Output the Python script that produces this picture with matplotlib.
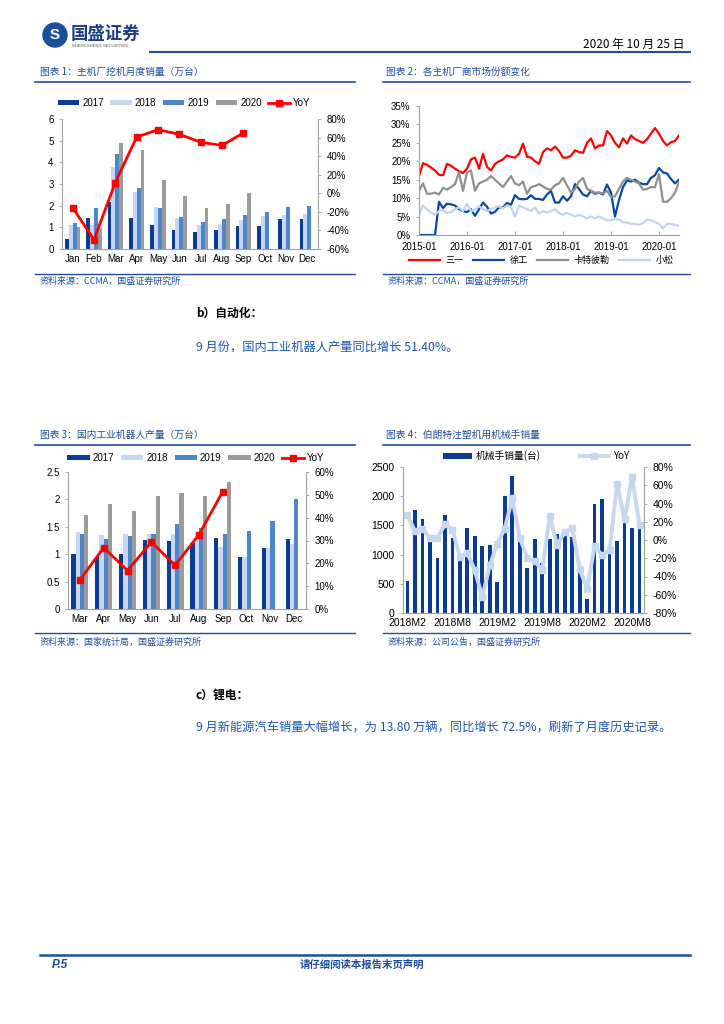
import matplotlib
matplotlib.use("Agg")
import matplotlib.pyplot as plt
from matplotlib.lines import Line2D
from matplotlib.patches import Ellipse
from matplotlib.ticker import FuncFormatter
import numpy as np

plt.rcParams['font.family'] = ['Liberation Sans', 'Noto Sans CJK SC', 'DejaVu Sans']
CJK = ['Noto Sans CJK SC', 'DejaVu Sans']

W, H = 724, 1024

# ---------------- Data ----------------
# Chart 1: excavator monthly sales (10k units)
months12 = ['Jan', 'Feb', 'Mar', 'Apr', 'May', 'Jun', 'Jul', 'Aug', 'Sep', 'Oct', 'Nov', 'Dec']
exc_2017 = [0.45, 1.45, 2.15, 1.45, 1.13, 0.90, 0.78, 0.87, 1.05, 1.06, 1.38, 1.40]
exc_2018 = [1.10, 1.10, 3.80, 2.65, 1.93, 1.42, 1.10, 1.15, 1.33, 1.52, 1.58, 1.60]
exc_2019 = [1.20, 1.87, 4.40, 2.80, 1.88, 1.50, 1.23, 1.38, 1.57, 1.70, 1.93, 2.00]
exc_2020 = [1.00, 0.95, 4.90, 4.55, 3.17, 2.45, 1.90, 2.08, 2.60]
exc_yoy = [-15.5, -50.0, 11.6, 60.5, 68.5, 63.5, 55.0, 51.5, 65.0]

# Chart 2: market share (monthly 2015-01 .. 2020-06)
share_sany = [16, 19.5, 19, 18.3, 17.5, 16.3, 16.2, 19.3, 18.8, 18, 17.3, 16.8,
              18, 20.5, 21, 18, 22, 18.5, 17.5, 19.3, 20, 20.5, 21.6, 21.2,
              21, 22, 24.8, 21.2, 21, 20, 19.3, 22.5, 23.5, 23, 24, 22.8,
              21, 21, 21.5, 23, 22.5, 22.3, 25, 26.2, 23.5, 24.3, 24.3, 28.2,
              27, 25, 23.8, 26.2, 24.8, 27, 26, 25.5, 25, 26, 27.5, 29,
              27.5, 25.5, 24.3, 25.2, 25.5, 27]
share_xcmg = [0, 0, 0, 0, 0, 9, 7.3, 8.5, 8.3, 8, 7, 6.5,
              6.2, 7, 5.2, 7, 8.8, 7.7, 5.8, 6.3, 7.5, 7.5, 8.7, 8.2,
              10.8, 9.8, 9.7, 9.8, 10.8, 9.8, 9.8, 9.5, 11, 12, 8.8, 8.8,
              10.5, 9.3, 10.5, 13.8, 12.5, 11, 10.5, 12, 11.2, 11.5, 11, 13.7,
              11.5, 5, 9.5, 13, 14.8, 14.5, 15, 14.2, 13.8, 13.8, 15.5, 16.2,
              18.2, 17, 16.7, 15.2, 14, 15]
share_cat = [12, 14, 11.2, 11.2, 11.5, 11, 12.8, 12.3, 13, 13.8, 17, 12,
             17, 17.5, 12, 14, 14.5, 15, 16, 15, 14, 13, 14.5, 16,
             14, 13.5, 14.5, 11.2, 13, 13.3, 13.8, 13.2, 12.5, 12.3, 13.5, 14,
             15.5, 13.5, 11.5, 12.5, 14.5, 15.5, 12.5, 12, 11.5, 11.5, 11.3, 12,
             10.3, 10.5, 12.5, 14.5, 15.5, 15, 14.5, 14, 12.3, 12.5, 13, 13,
             16.5, 9, 9, 10, 11.5, 14.3]
share_komatsu = [5.5, 8, 7, 6, 5.5, 6.5, 6.8, 6, 6.2, 7, 7.5, 6.5,
                 8.5, 6.5, 6.8, 7.8, 7, 6.5, 7, 7.5, 7.8, 7.2, 8, 7.5,
                 5, 8, 7.5, 7, 6.5, 7.5, 5.8, 6.5, 6, 6.5, 7, 6,
                 5.5, 6, 5.5, 5, 5.5, 5, 4.5, 5, 4.5, 5, 4.5, 4,
                 4, 4.3, 4.2, 3.5, 3.3, 3, 3, 2.8, 3.2, 4.2, 4, 3.5,
                 3, 1.8, 3, 3, 2.7, 2.5]
share_ticks = ['2015-01', '2016-01', '2017-01', '2018-01', '2019-01', '2020-01']
share_names = ['三一', '徐工', '卡特彼勒', '小松']

# Chart 3: industrial robot output (10k units)
months10 = ['Mar', 'Apr', 'May', 'Jun', 'Jul', 'Aug', 'Sep', 'Oct', 'Nov', 'Dec']
rob_2017 = [1.01, 0.95, 1.01, 1.26, 1.24, 1.20, 1.30, 0.94, 1.12, 1.27]
rob_2018 = [1.40, 1.35, 1.37, 1.37, 1.37, 1.30, 1.13, 0.95, 1.11, 1.18]
rob_2019 = [1.37, 1.28, 1.33, 1.37, 1.55, 1.47, 1.37, 1.43, 1.60, 2.00]
rob_2020 = [1.72, 1.92, 1.78, 2.07, 2.11, 2.06, 2.31]
rob_yoy = [12.7, 26.9, 16.8, 29.3, 19.2, 32.5, 51.4]

# Chart 4: Borunte manipulator sales (2018M2 .. 2020M9)
arm_sales = [550, 1760, 1610, 1220, 945, 1680, 1290, 910, 1450, 1315, 1145, 1160,
             535, 2000, 2350, 1325, 765, 1270, 850, 1275, 1360, 1315, 1305, 725,
             245, 1875, 1960, 1150, 1230, 1535, 1450, 1430]
arm_yoy = [27.2, 9.7, 12.6, 2.3, 2.3, 17.0, 11.5, -18.5, -14.2, -33.2, -62.5, -27.7,
           -3.9, 12.6, 45.6, 2.7, -19.6, -23.3, -33.2, 26.2, -5.7, 8.9, 13.3, -32.1,
           -53.3, -6.8, -16.7, -11.2, 61.3, 22.5, 69.3, 16.3]
arm_ticks = ['2018M2', '2018M8', '2019M2', '2019M8', '2020M2', '2020M8']

# ---------------- Styles ----------------
C17 = '#0a3d91'
C18 = '#c6d7ef'
C19 = '#4e86c8'
C20 = '#9b9b9b'
RED = '#ff0000'
BLUE_T = '#1f4e9c'
SPINE = '#a0a0a0'

fig = plt.figure(figsize=(W / 100, H / 100), dpi=100)


def rect(x0, y0, x1, y1):
    return [x0 / W, 1 - y1 / H, (x1 - x0) / W, (y1 - y0) / H]


def hline(x0, x1, y, lw=1.2, color=BLUE_T):
    fig.add_artist(Line2D([x0 / W, x1 / W], [1 - y / H, 1 - y / H],
                          transform=fig.transFigure, color=color, lw=lw))


def ftext(x, y, s, **kw):
    fig.text(x / W, 1 - y / H, s, **kw)


def style_ax(ax, right=None):
    ax.spines['top'].set_visible(False)
    ax.spines['left'].set_color(SPINE)
    ax.spines['bottom'].set_color(SPINE)
    ax.spines['right'].set_visible(False)
    ax.tick_params(axis='both', colors='black', labelsize=7, length=2.5, width=0.6)
    ax.tick_params(axis='both', color=SPINE)
    ax.tick_params(axis='x', length=0)
    if right is not None:
        for sp in ['top', 'left', 'bottom']:
            right.spines[sp].set_visible(False)
        right.spines['right'].set_color(SPINE)
        right.tick_params(axis='y', labelsize=7, length=2.5, width=0.6, color=SPINE)


# ---------------- Header ----------------
fig.add_artist(Ellipse((55 / W, 1 - 35 / H), 24 / W, 24 / H, transform=fig.transFigure,
                       color='#1a4f9c'))
ftext(55, 35, 'S', color='white', fontsize=11, fontweight='bold', ha='center', va='center')
ftext(71, 34, '国盛证券', family=CJK, fontsize=12.5, fontweight='bold', color='#1a3f80',
      va='center')
ftext(72, 46, 'SHENGSHENG SECURITIES', fontsize=3, color='#555555', va='center')
ftext(684, 44, '2020 年 10 月 25 日', family=CJK, fontsize=8.5, ha='right', va='center')
hline(150, 690, 52, lw=1.5)

# ---------------- Chart 1 ----------------
ftext(40, 72, '图表 1：主机厂挖机月度销量（万台）', family=CJK, fontsize=7, color=BLUE_T,
      style='italic', va='center')
hline(35, 355, 82)
ax1 = fig.add_axes(rect(62, 119, 318, 249))
x = np.arange(12)
bw = 0.18
ax1.bar(x - 1.5 * bw, exc_2017, bw, color=C17, label='2017')
ax1.bar(x - 0.5 * bw, exc_2018, bw, color=C18, label='2018')
ax1.bar(x + 0.5 * bw, exc_2019, bw, color=C19, label='2019')
ax1.bar(np.arange(len(exc_2020)) + 1.5 * bw, exc_2020, bw, color=C20, label='2020')
ax1.set_xlim(-0.5, 11.5)
ax1.set_ylim(0, 6)
ax1.set_xticks(x)
ax1.set_xticklabels(months12)
ax1.set_yticks(range(0, 7))
ax1r = ax1.twinx()
ax1r.plot(np.arange(len(exc_yoy)), exc_yoy, color=RED, lw=2, marker='s', ms=4, label='YoY')
ax1r.set_ylim(-60, 80)
ax1r.set_yticks(range(-60, 81, 20))
ax1r.yaxis.set_major_formatter(FuncFormatter(lambda v, p: f'{v:.0f}%'))
style_ax(ax1, ax1r)
h1, l1 = ax1.get_legend_handles_labels()
h2, l2 = ax1r.get_legend_handles_labels()
fig.legend(h1 + h2, l1 + l2, loc='center', bbox_to_anchor=(184 / W, 1 - 103 / H), ncol=5,
           frameon=False, fontsize=7, handlelength=2.2, handleheight=0.45,
           columnspacing=0.7, handletextpad=0.3)
hline(35, 355, 274, lw=1.0)
ftext(40, 281, '资料来源：CCMA，国盛证券研究所', family=CJK, fontsize=6.5, color=BLUE_T,
      style='italic', va='center')

# ---------------- Chart 2 ----------------
ftext(386, 72, '图表 2：各主机厂商市场份额变化', family=CJK, fontsize=7, color=BLUE_T,
      style='italic', va='center')
hline(383, 690, 82)
ax2 = fig.add_axes(rect(419, 106, 679, 235))
t = np.arange(len(share_sany))
ax2.plot(t, np.array(share_sany) / 100, color=RED, lw=1.6, label=share_names[0])
ax2.plot(t, np.array(share_xcmg) / 100, color='#0b48a0', lw=1.6, label=share_names[1])
ax2.plot(t, np.array(share_cat) / 100, color='#8f8f8f', lw=1.6, label=share_names[2])
ax2.plot(t, np.array(share_komatsu) / 100, color='#c3d5ee', lw=1.6, label=share_names[3])
ax2.set_xlim(0, len(t) - 1)
ax2.set_ylim(0, 0.35)
ax2.set_yticks(np.arange(0, 0.351, 0.05))
ax2.yaxis.set_major_formatter(FuncFormatter(lambda v, p: f'{v * 100:.0f}%'))
ax2.set_xticks(np.arange(0, len(t), 12))
ax2.set_xticklabels(share_ticks)
style_ax(ax2)
ax2.tick_params(axis='x', length=3, direction='in', color=SPINE, pad=5)
ax2.legend(loc='center', bbox_to_anchor=(0.47, -0.2), ncol=4, frameon=False,
           prop={'family': CJK, 'size': 6.5}, handlelength=3.5, columnspacing=1.0,
           handletextpad=0.6)
hline(383, 690, 274, lw=1.0)
ftext(388, 281, '资料来源：CCMA，国盛证券研究所', family=CJK, fontsize=6.5, color=BLUE_T,
      style='italic', va='center')

# ---------------- Body text ----------------
ftext(196, 313, 'b）自动化：', family=CJK, fontsize=8.5, fontweight='bold', va='center')
ftext(196, 348, '9 月份，国内工业机器人产量同比增长 51.40%。', family=CJK, fontsize=8.8,
      color='#1f55a8', va='center')

# ---------------- Chart 3 ----------------
ftext(40, 435, '图表 3：国内工业机器人产量（万台）', family=CJK, fontsize=7, color=BLUE_T,
      style='italic', va='center')
hline(35, 355, 445)
ax3 = fig.add_axes(rect(68, 472, 306, 609))
x3 = np.arange(10)
ax3.bar(x3 - 1.5 * bw, rob_2017, bw, color=C17, label='2017')
ax3.bar(x3 - 0.5 * bw, rob_2018, bw, color=C18, label='2018')
ax3.bar(x3 + 0.5 * bw, rob_2019, bw, color=C19, label='2019')
ax3.bar(np.arange(len(rob_2020)) + 1.5 * bw, rob_2020, bw, color=C20, label='2020')
ax3.set_xlim(-0.5, 9.5)
ax3.set_ylim(0, 2.5)
ax3.set_yticks([0, 0.5, 1, 1.5, 2, 2.5])
ax3.set_yticklabels(['0', '0.5', '1', '1.5', '2', '2.5'])
ax3.set_xticks(x3)
ax3.set_xticklabels(months10)
ax3r = ax3.twinx()
ax3r.plot(np.arange(len(rob_yoy)), rob_yoy, color=RED, lw=2, marker='s', ms=4, label='YoY')
ax3r.set_ylim(0, 60)
ax3r.set_yticks(range(0, 61, 10))
ax3r.yaxis.set_major_formatter(FuncFormatter(lambda v, p: f'{v:.0f}%'))
style_ax(ax3, ax3r)
h1, l1 = ax3.get_legend_handles_labels()
h2, l2 = ax3r.get_legend_handles_labels()
fig.legend(h1 + h2, l1 + l2, loc='center', bbox_to_anchor=(196 / W, 1 - 458 / H), ncol=5,
           frameon=False, fontsize=7, handlelength=2.3, handleheight=0.45,
           columnspacing=0.7, handletextpad=0.3)
hline(35, 355, 633, lw=1.0)
ftext(40, 642, '资料来源：国家统计局，国盛证券研究所', family=CJK, fontsize=6.5,
      color=BLUE_T, style='italic', va='center')

# ---------------- Chart 4 ----------------
ftext(386, 435, '图表 4：伯朗特注塑机用机械手销量', family=CJK, fontsize=7, color=BLUE_T,
      style='italic', va='center')
hline(383, 690, 445)
ax4 = fig.add_axes(rect(403, 467, 644, 613))
x4 = np.arange(len(arm_sales))
ax4.bar(x4, arm_sales, 0.5, color='#0a3d91', label='机械手销量(台)')
ax4.set_xlim(-0.6, len(x4) - 0.4)
ax4.set_ylim(0, 2500)
ax4.set_yticks(range(0, 2501, 500))
ax4.set_xticks(np.arange(0, len(x4), 6))
ax4.set_xticklabels(arm_ticks)
ax4r = ax4.twinx()
ax4r.plot(x4, arm_yoy, color='#c6d7ef', lw=2.8, marker='s', ms=4.5, label='YoY')
ax4r.set_ylim(-80, 80)
ax4r.set_yticks(range(-80, 81, 20))
ax4r.yaxis.set_major_formatter(FuncFormatter(lambda v, p: f'{v:.0f}%'))
style_ax(ax4, ax4r)
ax4.tick_params(labelsize=7.5)
ax4r.tick_params(labelsize=7.5)
h1, l1 = ax4.get_legend_handles_labels()
h2, l2 = ax4r.get_legend_handles_labels()
fig.legend(h1 + h2, l1 + l2, loc='center', bbox_to_anchor=(536 / W, 1 - 456 / H), ncol=2,
           frameon=False, prop={'family': CJK, 'size': 7}, handlelength=3.0,
           handleheight=0.5, columnspacing=4.0, handletextpad=0.4)
hline(383, 690, 633, lw=1.0)
ftext(388, 642, '资料来源：公司公告，国盛证券研究所', family=CJK, fontsize=6.5,
      color=BLUE_T, style='italic', va='center')

# ---------------- Body text 2 ----------------
ftext(196, 695, 'c）锂电：', family=CJK, fontsize=8.5, fontweight='bold', va='center')
ftext(196, 728, '9 月新能源汽车销量大幅增长，为 13.80 万辆，同比增长 72.5%，刷新了月度历史记录。',
      family=CJK, fontsize=8.8, color='#1f55a8', va='center')

# ---------------- Footer ----------------
hline(40, 690, 955, lw=1.8, color='#1f4e9c')
ftext(52, 965, 'P.5', fontsize=8.5, fontweight='bold', style='italic', color='#1f4e9c',
      va='center')
ftext(362, 965, '请仔细阅读本报告末页声明', family=CJK, fontsize=7.5, fontweight='bold',
      color='#1f4e9c', ha='center', va='center')

fig.savefig('out.png', dpi=100)
